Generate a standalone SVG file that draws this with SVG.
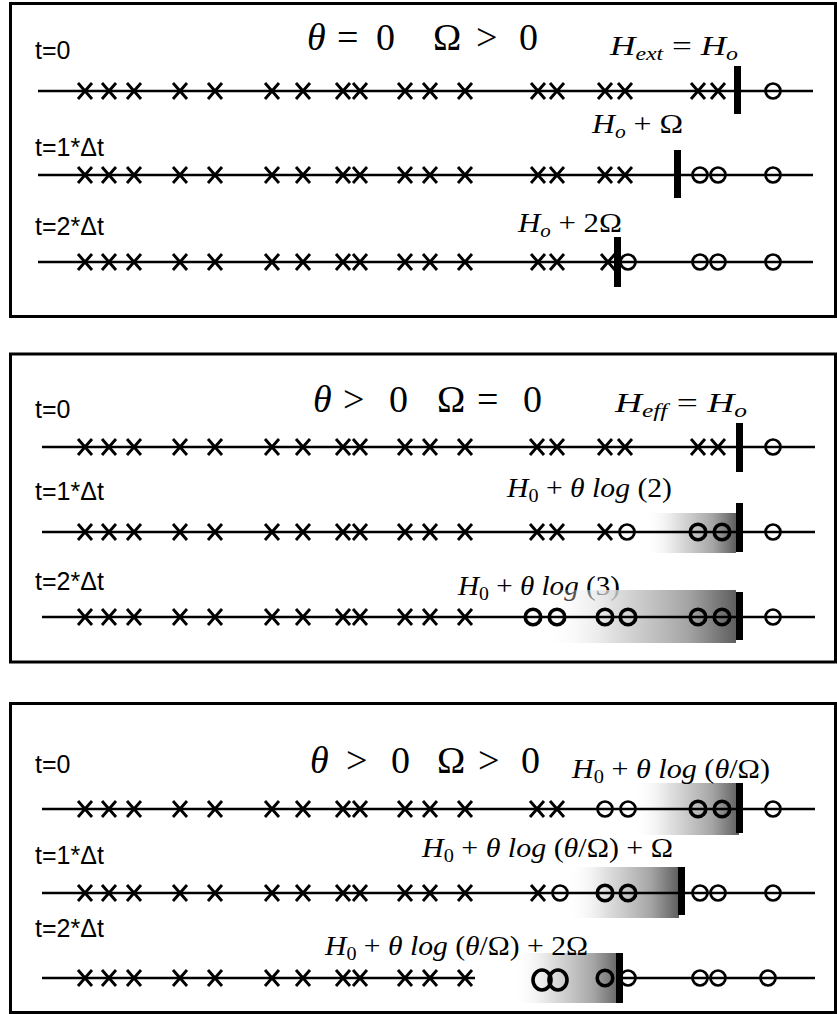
<svg xmlns="http://www.w3.org/2000/svg" xmlns:xlink="http://www.w3.org/1999/xlink" width="837" height="1014" viewBox="0 0 837 1014">
<style>
.box{fill:#fff;stroke:#000;stroke-width:3}
.ln{stroke:#000;stroke-width:2.6;fill:none}
.xm{stroke:#000;stroke-width:2.9;fill:none}
.om{stroke:#000;stroke-width:2.7;fill:none}
.ob{stroke:#000;stroke-width:3.6;fill:none}
.bar{fill:#000}
.lab{font-family:"Liberation Sans",Arial,sans-serif;font-size:25px;fill:#000}
.ttl{font-family:"Liberation Serif","Times New Roman",serif;font-size:38px;fill:#000}
.mth{font-family:"Liberation Serif","Times New Roman",serif;font-size:28px;fill:#000}
.it{font-style:italic}
.sub{font-size:19px}
</style>
<defs>
<path id="x" class="xm" d="M-7,-8 L7,8 M-7,8 L7,-8"/>
<ellipse id="o" class="om" rx="7.5" ry="7.5"/>
<ellipse id="ob" class="ob" rx="7.8" ry="7.8"/>
<ellipse id="obig" class="ob" rx="9" ry="10"/>
<g id="xl">
<use xlink:href="#x" x="85"/><use xlink:href="#x" x="109"/><use xlink:href="#x" x="134"/>
<use xlink:href="#x" x="180"/><use xlink:href="#x" x="215"/>
<use xlink:href="#x" x="272"/><use xlink:href="#x" x="303"/><use xlink:href="#x" x="343"/><use xlink:href="#x" x="360"/>
<use xlink:href="#x" x="405"/><use xlink:href="#x" x="430"/><use xlink:href="#x" x="465"/>
</g>
<linearGradient id="sh" x1="0" y1="0" x2="1" y2="0">
<stop offset="0" stop-color="#fff" stop-opacity="0"/>
<stop offset="0.35" stop-color="#d8d8d8" stop-opacity="0.8"/>
<stop offset="0.75" stop-color="#9a9a9a" stop-opacity="0.9"/>
<stop offset="1" stop-color="#555" stop-opacity="0.95"/>
</linearGradient>
</defs>

<g id="panel1">
<rect class="box" x="10.5" y="3.5" width="825" height="313"/>
<text class="lab" x="35" y="59">t=0</text>
<text class="lab" x="35" y="156">t=1*Δt</text>
<text class="lab" x="35" y="235">t=2*Δt</text>
<text class="ttl"><tspan class="it" x="307" y="50">θ</tspan><tspan x="337" y="50">=</tspan><tspan x="376" y="50">0</tspan><tspan x="433" y="50">Ω</tspan><tspan x="476" y="50">&gt;</tspan><tspan x="519" y="50">0</tspan></text>
<text class="mth" x="610" y="55" textLength="128" lengthAdjust="spacingAndGlyphs"><tspan class="it">H</tspan><tspan class="it sub" dy="5">ext</tspan><tspan dy="-5"> = </tspan><tspan class="it">H</tspan><tspan class="it sub" dy="5">o</tspan></text>
<text class="mth" x="592" y="133" textLength="91" lengthAdjust="spacingAndGlyphs"><tspan class="it">H</tspan><tspan class="it sub" dy="5">o</tspan><tspan dy="-5"> + Ω</tspan></text>
<text class="mth" x="518" y="232" textLength="104" lengthAdjust="spacingAndGlyphs"><tspan class="it">H</tspan><tspan class="it sub" dy="5">o</tspan><tspan dy="-5"> + 2Ω</tspan></text>
<g id="p1r1">
<line class="ln" x1="38" y1="91" x2="813" y2="91"/>
<use xlink:href="#xl" y="91"/>
<use xlink:href="#x" x="538" y="91"/><use xlink:href="#x" x="557" y="91"/><use xlink:href="#x" x="605" y="91"/><use xlink:href="#x" x="625" y="91"/><use xlink:href="#x" x="698" y="91"/><use xlink:href="#x" x="718" y="91"/>
<rect class="bar" x="734" y="66" width="7" height="48"/>
<use xlink:href="#o" x="773" y="91"/>
</g>
<g id="p1r2">
<line class="ln" x1="38" y1="175" x2="813" y2="175"/>
<use xlink:href="#xl" y="175"/>
<use xlink:href="#x" x="538" y="175"/><use xlink:href="#x" x="557" y="175"/><use xlink:href="#x" x="605" y="175"/><use xlink:href="#x" x="625" y="175"/>
<rect class="bar" x="674" y="150" width="7" height="48"/>
<use xlink:href="#o" x="700" y="175"/><use xlink:href="#o" x="718" y="175"/><use xlink:href="#o" x="773" y="175"/>
</g>
<g id="p1r3">
<line class="ln" x1="38" y1="262" x2="813" y2="262"/>
<use xlink:href="#xl" y="262"/>
<use xlink:href="#x" x="538" y="262"/><use xlink:href="#x" x="557" y="262"/><use xlink:href="#x" x="608" y="262"/>
<use xlink:href="#o" x="628" y="262"/>
<rect class="bar" x="614" y="237" width="7" height="50"/>
<use xlink:href="#o" x="700" y="262"/><use xlink:href="#o" x="718" y="262"/><use xlink:href="#o" x="773" y="262"/>
</g>
</g>

<g id="panel2">
<rect class="box" x="10.5" y="354" width="825" height="308"/>
<text class="lab" x="35" y="418">t=0</text>
<text class="lab" x="35" y="500">t=1*Δt</text>
<text class="lab" x="35" y="590">t=2*Δt</text>
<text class="ttl"><tspan class="it" x="313" y="412">θ</tspan><tspan x="343" y="412">&gt;</tspan><tspan x="389" y="412">0</tspan><tspan x="437" y="412">Ω</tspan><tspan x="477" y="412">=</tspan><tspan x="523" y="412">0</tspan></text>
<text class="mth" x="615" y="412" textLength="132" lengthAdjust="spacingAndGlyphs"><tspan class="it">H</tspan><tspan class="it sub" dy="5">eff</tspan><tspan dy="-5"> = </tspan><tspan class="it">H</tspan><tspan class="it sub" dy="5">o</tspan></text>
<text class="mth" x="507" y="497" textLength="165" lengthAdjust="spacingAndGlyphs"><tspan class="it">H</tspan><tspan class="sub" dy="5">0</tspan><tspan dy="-5"> + </tspan><tspan class="it">θ log</tspan><tspan> (2)</tspan></text>
<text class="mth" x="458" y="595" textLength="162" lengthAdjust="spacingAndGlyphs"><tspan class="it">H</tspan><tspan class="sub" dy="5">0</tspan><tspan dy="-5"> + </tspan><tspan class="it">θ log</tspan><tspan> (3)</tspan></text>
<g id="p2r1">
<line class="ln" x1="42" y1="447" x2="815" y2="447"/>
<use xlink:href="#xl" y="447"/>
<use xlink:href="#x" x="537" y="447"/><use xlink:href="#x" x="557" y="447"/><use xlink:href="#x" x="605" y="447"/><use xlink:href="#x" x="625" y="447"/><use xlink:href="#x" x="698" y="447"/><use xlink:href="#x" x="718" y="447"/>
<rect class="bar" x="736" y="423" width="7" height="49"/>
<use xlink:href="#o" x="773" y="447"/>
</g>
<g id="p2r2">
<rect x="645" y="513" width="91" height="40" fill="url(#sh)"/>
<line class="ln" x1="42" y1="532" x2="815" y2="532"/>
<use xlink:href="#xl" y="532"/>
<use xlink:href="#x" x="537" y="532"/><use xlink:href="#x" x="557" y="532"/><use xlink:href="#x" x="605" y="532"/>
<use xlink:href="#o" x="627" y="532"/>
<use xlink:href="#ob" x="698" y="532"/><use xlink:href="#ob" x="722" y="532"/>
<rect class="bar" x="736" y="503" width="7" height="49"/>
<use xlink:href="#o" x="773" y="532"/>
</g>
<g id="p2r3">
<rect x="545" y="590" width="191" height="53" fill="url(#sh)"/>
<line class="ln" x1="42" y1="617" x2="815" y2="617"/>
<use xlink:href="#xl" y="617"/>
<use xlink:href="#ob" x="533" y="617"/><use xlink:href="#ob" x="557" y="617"/><use xlink:href="#ob" x="605" y="617"/><use xlink:href="#ob" x="628" y="617"/>
<use xlink:href="#ob" x="698" y="617"/><use xlink:href="#ob" x="722" y="617"/>
<rect class="bar" x="736" y="592" width="7" height="48"/>
<use xlink:href="#o" x="773" y="617"/>
</g>
</g>

<g id="panel3">
<rect class="box" x="10.5" y="703.5" width="825" height="309"/>
<text class="lab" x="35" y="773">t=0</text>
<text class="lab" x="35" y="864">t=1*Δt</text>
<text class="lab" x="35" y="937">t=2*Δt</text>
<text class="ttl"><tspan class="it" x="310" y="773">θ</tspan><tspan x="346" y="773">&gt;</tspan><tspan x="391" y="773">0</tspan><tspan x="437" y="773">Ω</tspan><tspan x="478" y="773">&gt;</tspan><tspan x="521" y="773">0</tspan></text>
<rect x="633" y="783" width="106" height="52" fill="url(#sh)"/>
<rect x="567" y="867" width="112" height="51" fill="url(#sh)"/>
<rect x="513" y="953" width="108" height="50" fill="url(#sh)"/>
<text class="mth" x="572" y="778" textLength="198" lengthAdjust="spacingAndGlyphs"><tspan class="it">H</tspan><tspan class="sub" dy="5">0</tspan><tspan dy="-5"> + </tspan><tspan class="it">θ log</tspan><tspan> (</tspan><tspan class="it">θ</tspan><tspan>/Ω)</tspan></text>
<text class="mth" x="422" y="857" textLength="251" lengthAdjust="spacingAndGlyphs"><tspan class="it">H</tspan><tspan class="sub" dy="5">0</tspan><tspan dy="-5"> + </tspan><tspan class="it">θ log</tspan><tspan> (</tspan><tspan class="it">θ</tspan><tspan>/Ω) + Ω</tspan></text>
<text class="mth" x="325" y="955" textLength="263" lengthAdjust="spacingAndGlyphs"><tspan class="it">H</tspan><tspan class="sub" dy="5">0</tspan><tspan dy="-5"> + </tspan><tspan class="it">θ log</tspan><tspan> (</tspan><tspan class="it">θ</tspan><tspan>/Ω) + 2Ω</tspan></text>
<g id="p3r1">
<line class="ln" x1="42" y1="809" x2="815" y2="809"/>
<use xlink:href="#xl" y="809"/>
<use xlink:href="#x" x="537" y="809"/><use xlink:href="#x" x="557" y="809"/>
<use xlink:href="#o" x="605" y="809"/><use xlink:href="#o" x="628" y="809"/>
<use xlink:href="#ob" x="698" y="809"/><use xlink:href="#ob" x="722" y="809"/>
<rect class="bar" x="736" y="783" width="7" height="50"/>
<use xlink:href="#o" x="773" y="809"/>
</g>
<g id="p3r2">
<line class="ln" x1="42" y1="893" x2="815" y2="893"/>
<use xlink:href="#xl" y="893"/>
<use xlink:href="#x" x="538" y="893"/>
<use xlink:href="#o" x="560" y="893"/><use xlink:href="#ob" x="605" y="893"/><use xlink:href="#ob" x="628" y="893"/>
<rect class="bar" x="678" y="867" width="7" height="48"/>
<use xlink:href="#o" x="700" y="893"/><use xlink:href="#o" x="718" y="893"/><use xlink:href="#o" x="773" y="893"/>
</g>
<g id="p3r3">
<line class="ln" x1="42" y1="978" x2="475" y2="978"/>
<line class="ln" x1="618" y1="978" x2="815" y2="978"/>
<use xlink:href="#xl" y="978"/>
<use xlink:href="#obig" x="542" y="980"/><use xlink:href="#obig" x="558" y="980"/>
<use xlink:href="#ob" x="605" y="978"/>
<use xlink:href="#o" x="628" y="978"/>
<rect class="bar" x="616" y="953" width="7" height="50"/>
<use xlink:href="#o" x="700" y="978"/><use xlink:href="#o" x="718" y="978"/><use xlink:href="#o" x="768" y="978"/>
</g>
</g>
</svg>
